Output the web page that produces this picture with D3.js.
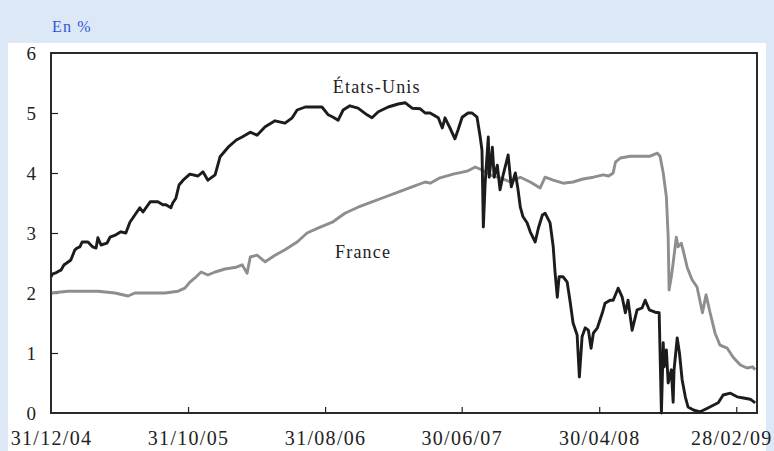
<!DOCTYPE html>
<html><head><meta charset="utf-8">
<script src="https://cdn.jsdelivr.net/npm/d3@7/dist/d3.min.js"></script>
<style>
html,body{margin:0;padding:0;background:#dde8f7;}
svg{display:block;}
</style></head>
<body>
<svg id="chart" width="774" height="451"></svg>
<script>
// Day offsets from 31/12/2004 and rates (%)
const usDays = [0,4,9,16,22,29,35,44,53,58,64,69,82,92,100,104,111,124,131,144,155,166,175,186,197,204,220,237,248,255,266,270,277,284,293,308,326,337,348,364,375,393,411,424,442,457,475,497,519,535,546,564,581,601,615,626,637,648,663,681,701,712,726,748,770,786,801,819,830,841,859,868,874,885,896,903,912,925,934,945,952,956,959,963,970,972,979,983,990,996,1003,1014,1021,1030,1036,1041,1047,1056,1063,1074,1081,1090,1096,1107,1114,1118,1123,1127,1136,1145,1152,1158,1167,1172,1178,1185,1192,1198,1203,1212,1223,1229,1240,1247,1258,1267,1274,1280,1289,1300,1311,1318,1327,1340,1349,1354,1358,1360,1365,1369,1376,1380,1382,1389,1394,1400,1407,1413,1425,1440,1456,1469,1480,1491,1507,1522,1536,1551,1562];
const usValues = [2.27,2.32,2.33,2.36,2.38,2.47,2.5,2.55,2.72,2.75,2.77,2.85,2.85,2.77,2.75,2.92,2.8,2.83,2.93,2.97,3.02,3.0,3.18,3.3,3.42,3.35,3.52,3.52,3.47,3.47,3.42,3.5,3.58,3.8,3.88,3.98,3.95,4.02,3.88,3.97,4.27,4.43,4.55,4.6,4.68,4.63,4.77,4.87,4.83,4.92,5.05,5.1,5.1,5.1,4.97,4.93,4.88,5.05,5.12,5.08,4.97,4.92,5.02,5.1,5.15,5.17,5.08,5.07,5.0,5.0,4.92,4.75,4.92,4.75,4.57,4.72,4.93,5.0,5.0,4.93,4.6,4.38,3.1,3.83,4.6,3.93,4.43,3.93,4.13,3.72,3.97,4.3,3.77,4.0,3.72,3.43,3.27,3.17,3.02,2.85,3.08,3.3,3.33,3.17,2.77,2.35,1.93,2.27,2.27,2.18,1.83,1.5,1.3,0.6,1.27,1.42,1.38,1.08,1.33,1.42,1.67,1.83,1.88,1.88,2.08,1.93,1.67,1.88,1.38,1.72,1.75,1.88,1.72,1.68,1.67,0.0,1.17,0.77,1.05,0.5,0.72,0.18,0.72,1.25,1.0,0.55,0.27,0.1,0.05,0.02,0.08,0.13,0.17,0.3,0.33,0.27,0.25,0.23,0.17];
const frDays = [0,38,67,104,142,171,186,215,253,282,297,308,322,333,348,364,386,411,424,435,442,457,475,497,519,546,568,592,624,652,681,712,741,770,801,830,841,863,892,923,941,956,974,996,1019,1041,1063,1085,1096,1114,1136,1158,1180,1203,1225,1237,1247,1252,1263,1285,1307,1329,1345,1351,1358,1365,1369,1371,1376,1380,1387,1391,1398,1402,1411,1422,1433,1445,1453,1462,1473,1484,1500,1513,1529,1544,1556,1562];
const frValues = [2.0,2.03,2.03,2.03,2.0,1.95,2.0,2.0,2.0,2.03,2.08,2.18,2.27,2.35,2.3,2.35,2.4,2.43,2.47,2.33,2.6,2.63,2.52,2.63,2.72,2.85,3.0,3.08,3.18,3.33,3.43,3.52,3.6,3.68,3.77,3.85,3.83,3.92,3.98,4.03,4.1,4.05,3.97,3.92,3.85,3.93,3.85,3.75,3.93,3.88,3.83,3.85,3.9,3.93,3.97,3.95,4.0,4.18,4.25,4.28,4.28,4.28,4.33,4.28,4.0,3.6,2.93,2.05,2.27,2.5,2.93,2.77,2.83,2.72,2.43,2.22,2.1,1.67,1.97,1.67,1.33,1.13,1.08,0.93,0.8,0.75,0.77,0.72];
const xTickLabels = ["31/12/04","31/10/05","31/08/06","30/06/07","30/04/08","28/02/09"];
const yTicks = [0,1,2,3,4,5,6];
const unitLabel = "En %";
const seriesNames = ["États-Unis","France"];

const parse = d3.timeParse("%d/%m/%y");
const start = parse("31/12/04");
const end = d3.timeDay.offset(start, 1566);
const toDate = d => d3.timeDay.offset(start, d);
const us = usDays.map((d,i)=>({date:toDate(d), v:usValues[i]}));
const fr = frDays.map((d,i)=>({date:toDate(d), v:frValues[i]}));
const tickDates = xTickLabels.map(parse);

const svg = d3.select("#chart");
const L=51, R=757, T=53, B=413;
const x = d3.scaleTime().domain([start,end]).range([L,R]);
const y = d3.scaleLinear().domain([0,6]).range([B,T]);
const serif = "'Liberation Serif', 'Times New Roman', serif";

// white panel
svg.append("rect").attr("x",8).attr("y",43).attr("width",758).attr("height",408).attr("fill","#ffffff");

svg.append("text").attr("x",52).attr("y",32).text(unitLabel)
  .attr("font-family",serif).attr("font-size",16).attr("letter-spacing",1.2).attr("fill","#2a57d4");

// plot frame
svg.append("rect").attr("x",L).attr("y",T).attr("width",R-L).attr("height",B-T)
  .attr("fill","#fff").attr("stroke","#222").attr("stroke-width",1.6);

// y axis (ticks inward)
const yAxis = d3.axisLeft(y).tickValues(yTicks).tickSize(-7).tickPadding(15).tickFormat(d3.format("d"));
const gy = svg.append("g").attr("transform",`translate(${L},0)`).call(yAxis);
gy.select(".domain").remove();
gy.selectAll(".tick line").attr("stroke","#222").attr("stroke-width",1.2);
gy.selectAll(".tick text").attr("font-family",serif).attr("font-size",19).attr("fill","#222").attr("x",-15);
gy.selectAll(".tick").filter(d=>d===0||d===6).select("line").remove();

// x axis (ticks inward)
const xAxis = d3.axisBottom(x).tickValues(tickDates).tickSize(-6).tickPadding(21)
  .tickFormat((d,i)=>xTickLabels[i]);
const gx = svg.append("g").attr("transform",`translate(0,${B})`).call(xAxis);
gx.select(".domain").remove();
gx.selectAll(".tick line").attr("stroke","#222").attr("stroke-width",1.2);
gx.selectAll(".tick").filter((d,i)=>i===0).select("line").remove();
gx.selectAll(".tick text").attr("font-family",serif).attr("font-size",20)
  .attr("letter-spacing",1.3).attr("fill","#222").attr("dy","0.55em");
gx.selectAll(".tick").filter((d,i)=>i===xTickLabels.length-1).select("text").attr("dx",-5);

const line = d3.line().x(d=>x(d.date)).y(d=>y(d.v));
svg.append("path").datum(fr).attr("d",line).attr("fill","none").attr("stroke","#8e8e8e").attr("stroke-width",2.9).attr("stroke-linejoin","round");
svg.append("path").datum(us).attr("d",line).attr("fill","none").attr("stroke","#1c1c1c").attr("stroke-width",2.9).attr("stroke-linejoin","round");

// redraw frame border on top
svg.append("rect").attr("x",L).attr("y",T).attr("width",R-L).attr("height",B-T)
  .attr("fill","none").attr("stroke","#222").attr("stroke-width",1.6);

// series labels
svg.append("text").attr("x",x(toDate(625))).attr("y",y(5.33)).text(seriesNames[0])
  .attr("font-family",serif).attr("font-size",18).attr("letter-spacing",1.2).attr("fill","#222");
svg.append("text").attr("x",x(toDate(630))).attr("y",y(2.58)).text(seriesNames[1])
  .attr("font-family",serif).attr("font-size",18).attr("letter-spacing",1.2).attr("fill","#222");
</script>
</body></html>
